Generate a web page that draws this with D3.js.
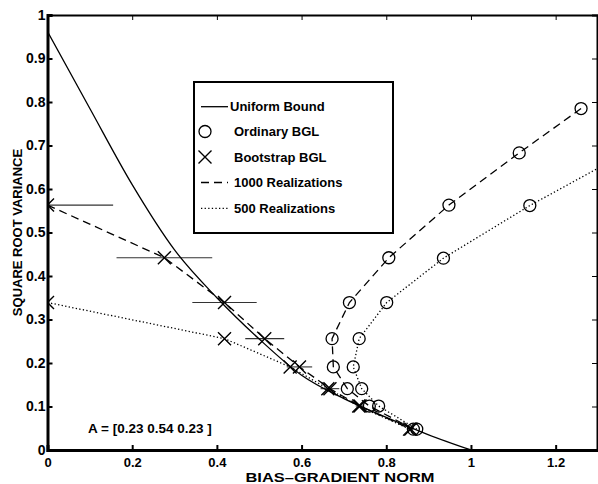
<!DOCTYPE html>
<html>
<head>
<meta charset="utf-8">
<script src="https://cdn.jsdelivr.net/npm/d3@7"></script>
<style>
  body { margin: 0; background: #fff; }
  svg { display: block; font-family: "Liberation Sans", Arial, Helvetica, sans-serif; font-weight: bold; }
</style>
</head>
<body>
<div id="chart"></div>
<script>
(function () {
  "use strict";

  // Uniform bound (solid curve)
  const boundX = [0, 0.1, 0.2, 0.3, 0.4, 0.5, 0.6, 0.7, 0.8, 0.9, 1.0];
  const boundY = [0.962, 0.785, 0.61, 0.46, 0.35, 0.255, 0.172, 0.118, 0.075, 0.035, 0];

  // Bootstrap BGL, 1000 realizations (dashed, X) with horizontal error bars
  const boot1000X = [0, 0.276, 0.418, 0.513, 0.595, 0.667, 0.738, 0.858];
  const boot1000Y = [0.563, 0.442, 0.339, 0.256, 0.191, 0.141, 0.101, 0.048];
  const boot1000Err = [0.155, 0.113, 0.076, 0.046, 0.03, 0.022, 0.01, 0.005];

  // Bootstrap BGL, 500 realizations (dotted, X)
  const boot500X = [0, 0.418, 0.573, 0.662, 0.735, 0.855];
  const boot500Y = [0.339, 0.256, 0.191, 0.141, 0.101, 0.048];

  // Ordinary BGL, 1000 realizations (dashed, O)
  const ord1000X = [1.26, 1.114, 0.948, 0.806, 0.713, 0.672, 0.675, 0.708, 0.76, 0.864];
  const ord1000Y = [0.785, 0.683, 0.563, 0.442, 0.339, 0.256, 0.191, 0.141, 0.101, 0.048];

  // Ordinary BGL, 500 realizations (dotted, O)
  const ord500X = [1.37, 1.139, 0.935, 0.801, 0.736, 0.722, 0.742, 0.782, 0.872];
  const ord500Y = [0.685, 0.562, 0.441, 0.339, 0.256, 0.191, 0.141, 0.101, 0.048];

  const xTicks = [0, 0.2, 0.4, 0.6, 0.8, 1, 1.2];
  const yTicks = [0, 0.1, 0.2, 0.3, 0.4, 0.5, 0.6, 0.7, 0.8, 0.9, 1];

  const legendLabels = ["Uniform Bound", "Ordinary BGL", "Bootstrap BGL", "1000 Realizations", "500 Realizations"];
  const annotation = "A = [0.23 0.54 0.23 ]";

  const width = 598, height = 484;
  const left = 47.5, right = 598, top = 15, bottom = 450;

  const x = d3.scaleLinear().domain([0, 1.3]).range([left, right]);
  const y = d3.scaleLinear().domain([0, 1]).range([bottom, top]);

  const svg = d3.select("#chart").append("svg")
    .attr("width", width).attr("height", height);

  svg.append("clipPath").attr("id", "plot-clip")
    .append("rect")
    .attr("x", left).attr("y", top)
    .attr("width", right - left).attr("height", bottom - top);

  const zip = (xs, ys) => xs.map((v, i) => [v, ys[i]]);
  const line = d3.line().x((d) => x(d[0])).y((d) => y(d[1]));

  const DASH = "8,5";
  const DOT = "1.3,2.3";

  const plot = svg.append("g").attr("clip-path", "url(#plot-clip)");

  // error bars
  plot.append("g")
    .selectAll("line")
    .data(boot1000X.map((v, i) => ({ x: v, y: boot1000Y[i], e: boot1000Err[i] })))
    .join("line")
    .attr("x1", (d) => x(d.x - d.e))
    .attr("x2", (d) => x(d.x + d.e))
    .attr("y1", (d) => y(d.y))
    .attr("y2", (d) => y(d.y))
    .attr("stroke", "#333")
    .attr("stroke-width", 1.1);

  // uniform bound
  plot.append("path")
    .attr("d", line.curve(d3.curveMonotoneX)(zip(boundX, boundY)))
    .attr("fill", "none").attr("stroke", "#000").attr("stroke-width", 1.3);
  line.curve(d3.curveLinear);

  const series = [
    { pts: zip(boot1000X, boot1000Y), dash: DASH, marker: "x" },
    { pts: zip(boot500X, boot500Y), dash: DOT, marker: "x" },
    { pts: zip(ord1000X, ord1000Y), dash: DASH, marker: "o" },
    { pts: zip(ord500X, ord500Y), dash: DOT, marker: "o" }
  ];

  series.forEach((s) => {
    plot.append("path")
      .attr("d", line(s.pts))
      .attr("fill", "none").attr("stroke", "#000")
      .attr("stroke-width", 1.3)
      .attr("stroke-dasharray", s.dash);
    drawMarkers(plot, s.pts.map((d) => [x(d[0]), y(d[1])]), s.marker);
  });

  function drawMarkers(g, pts, type) {
    if (type === "o") {
      g.append("g").selectAll("circle").data(pts).join("circle")
        .attr("cx", (d) => d[0]).attr("cy", (d) => d[1]).attr("r", 6)
        .attr("fill", "none").attr("stroke", "#000").attr("stroke-width", 1.3);
    } else {
      const r = 6.5;
      g.append("g").selectAll("path").data(pts).join("path")
        .attr("d", (d) => `M${d[0] - r},${d[1] - r}L${d[0] + r},${d[1] + r}M${d[0] - r},${d[1] + r}L${d[0] + r},${d[1] - r}`)
        .attr("fill", "none").attr("stroke", "#000").attr("stroke-width", 1.4);
    }
  }

  // axes: box with inward ticks on all sides
  const tick = 5;
  svg.append("g").attr("transform", `translate(0,${bottom})`)
    .call(d3.axisBottom(x).tickValues(xTicks).tickSize(-tick).tickPadding(tick + 3).tickFormat(d3.format("")))
    .call((g) => g.select(".domain").attr("stroke-width", 3))
    .call((g) => g.selectAll(".tick line").attr("stroke-width", 2))
    .call((g) => g.selectAll(".tick text").attr("font-size", 13).attr("font-family", null).attr("fill", "#000"));

  svg.append("g").attr("transform", `translate(${left},0)`)
    .call(d3.axisLeft(y).tickValues(yTicks).tickSize(-tick).tickPadding(2).tickFormat(d3.format("")))
    .call((g) => g.select(".domain").attr("stroke-width", 3))
    .call((g) => g.selectAll(".tick line").attr("stroke-width", 2))
    .call((g) => g.selectAll(".tick text").attr("font-size", 14).attr("font-family", null).attr("fill", "#000"));

  svg.append("g").attr("transform", `translate(0,${top})`)
    .call(d3.axisTop(x).tickValues(xTicks).tickSize(-tick).tickFormat(""))
    .call((g) => g.select(".domain").attr("stroke-width", 2));

  svg.append("g").attr("transform", `translate(${right - 1},0)`)
    .call(d3.axisRight(y).tickValues(yTicks).tickSize(-tick).tickFormat(""))
    .call((g) => g.select(".domain").attr("stroke-width", 2));

  // axis titles
  svg.append("text")
    .attr("x", 340).attr("y", 481.5)
    .attr("text-anchor", "middle").attr("font-size", 13)
    .attr("textLength", 189).attr("lengthAdjust", "spacingAndGlyphs")
    .text("BIAS\u2013GRADIENT NORM");

  svg.append("text")
    .attr("transform", `translate(22,${(top + bottom) / 2}) rotate(-90)`)
    .attr("text-anchor", "middle").attr("font-size", 13)
    .text("SQUARE ROOT VARIANCE");

  svg.append("text")
    .attr("x", 88).attr("y", 433).attr("font-size", 13.5)
    .text(annotation);

  // legend
  const lg = svg.append("g");
  lg.append("rect")
    .attr("x", 194).attr("y", 82).attr("width", 199).attr("height", 151)
    .attr("fill", "#fff").attr("stroke", "#000").attr("stroke-width", 2);

  const rowY = [106.7, 131.5, 157, 182.5, 208.3];
  const legendItems = [
    { kind: "line", dash: null },
    { kind: "o" },
    { kind: "x" },
    { kind: "line", dash: DASH },
    { kind: "line", dash: DOT }
  ];
  legendItems.forEach((it, i) => {
    const cy = rowY[i];
    if (it.kind === "line") {
      lg.append("line")
        .attr("x1", 201).attr("x2", 228).attr("y1", cy).attr("y2", cy)
        .attr("stroke", "#000").attr("stroke-width", 1.3)
        .attr("stroke-dasharray", it.dash);
    } else {
      drawMarkers(lg, [[205, cy]], it.kind);
    }
    lg.append("text")
      .attr("x", i === 0 ? 230 : 234).attr("y", cy + 4.7)
      .attr("font-size", 13)
      .text(legendLabels[i]);
  });
})();
</script>
</body>
</html>
